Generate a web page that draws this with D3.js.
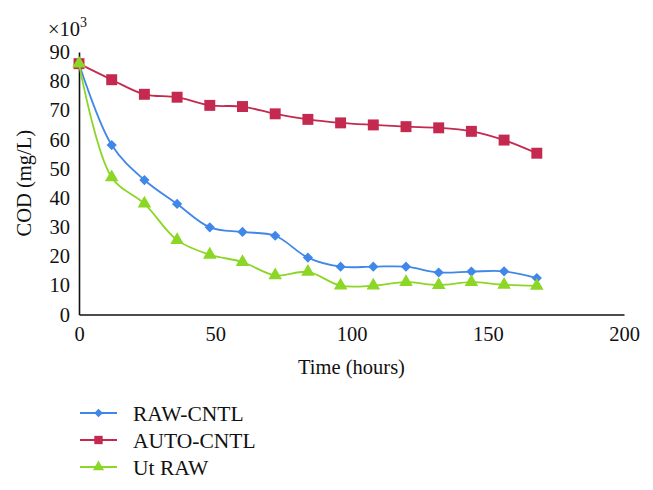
<!DOCTYPE html>
<html>
<head>
<meta charset="utf-8">
<script src="https://cdn.jsdelivr.net/npm/d3@7"></script>
<style>
  html, body { margin: 0; padding: 0; background: #fff; }
  svg { display: block; }
  text { font-family: "Liberation Serif", "DejaVu Serif", serif; fill: #111; }
</style>
</head>
<body>
<svg id="chart" width="653" height="490"></svg>
<script>
// ---- data ----
const hours = [0, 12, 24, 36, 48, 60, 72, 84, 96, 108, 120, 132, 144, 156, 168];
const rawCntl  = [86, 58.1, 46.1, 37.9, 29.9, 28.3, 27.0, 19.5, 16.4, 16.4, 16.4, 14.4, 14.7, 14.8, 12.5];
const autoCntl = [86, 80.5, 75.5, 74.5, 71.7, 71.3, 68.8, 66.9, 65.7, 65.0, 64.4, 64.0, 62.8, 59.8, 55.3];
const utRaw    = [86, 47.0, 38.0, 25.5, 20.5, 18.0, 13.4, 14.6, 9.9, 9.9, 11.1, 10.1, 11.1, 10.2, 9.8];
const seriesNames = ["RAW-CNTL", "AUTO-CNTL", "Ut RAW"];
const xTicks = [0, 50, 100, 150, 200];
const yTicks = [0, 10, 20, 30, 40, 50, 60, 70, 80, 90];

const series = [
  { name: seriesNames[0], values: rawCntl,  color: "#3f87e8", symbol: d3.symbolSquare,   rot: 45, size: 52,  lsize: 36 },
  { name: seriesNames[1], values: autoCntl, color: "#c42a50", symbol: d3.symbolSquare,   rot: 0,  size: 120, lsize: 70 },
  { name: seriesNames[2], values: utRaw,    color: "#8cd625", symbol: d3.symbolTriangle, rot: 0,  size: 80,  lsize: 55 }
];

const svg = d3.select("#chart");
const x = d3.scaleLinear().domain([0, 200]).range([79, 624]);
const y = d3.scaleLinear().domain([0, 90]).range([314.5, 52]);

// axes
const xAxis = d3.axisBottom(x).tickValues(xTicks).tickSize(0).tickPadding(12);
const gx = svg.append("g").attr("transform", `translate(0,${y(0)})`).call(xAxis);
gx.select(".domain").attr("stroke", "#111").attr("stroke-width", 1.6);
gx.selectAll("text").attr("font-size", 20.5).attr("font-family", "Liberation Serif").attr("fill", "#111");

const yAxis = d3.axisLeft(y).tickValues(yTicks).tickSize(0).tickPadding(9);
const gy = svg.append("g").attr("transform", `translate(${x(0)},0)`).call(yAxis);
gy.select(".domain").attr("stroke", "#111").attr("stroke-width", 1.6);
gy.selectAll("text").attr("font-size", 20.5).attr("font-family", "Liberation Serif").attr("fill", "#111");

// axis labels
svg.append("text").attr("x", (x(0) + x(200)) / 2).attr("y", 374)
  .attr("text-anchor", "middle").attr("font-size", 20.5).text("Time (hours)");
svg.append("text").attr("transform", `translate(31,${(y(0) + y(90)) / 2}) rotate(-90)`)
  .attr("text-anchor", "middle").attr("font-size", 20.5).text("COD (mg/L)");
const mult = svg.append("text").attr("x", 48).attr("y", 36).attr("font-size", 20.5);
mult.append("tspan").text("×10");
mult.append("tspan").attr("dy", -9).attr("font-size", 14).text("3");

// lines + markers
const line = d3.line().x(d => x(d[0])).y(d => y(d[1])).curve(d3.curveCatmullRom.alpha(0.5));
series.forEach(s => {
  const pts = hours.map((h, i) => [h, s.values[i]]);
  svg.append("path").datum(pts).attr("d", line)
    .attr("fill", "none").attr("stroke", s.color).attr("stroke-width", 1.8);
  svg.append("g").selectAll("path").data(pts).join("path")
    .attr("transform", d => `translate(${x(d[0])},${y(d[1])}) rotate(${s.rot})`)
    .attr("d", d3.symbol().type(s.symbol).size(s.size))
    .attr("fill", s.color);
});

// legend
const legendY = [413, 440, 467];
series.forEach((s, i) => {
  const g = svg.append("g").attr("transform", `translate(0,${legendY[i]})`);
  g.append("line").attr("x1", 80).attr("x2", 117).attr("y1", 0).attr("y2", 0)
    .attr("stroke", s.color).attr("stroke-width", 1.8);
  g.append("path").attr("transform", `translate(98.5,0) rotate(${s.rot})`)
    .attr("d", d3.symbol().type(s.symbol).size(s.lsize)).attr("fill", s.color);
  g.append("text").attr("x", 133).attr("y", 0).attr("dy", "0.35em")
    .attr("font-size", 21.5).text(s.name);
});
</script>
</body>
</html>
